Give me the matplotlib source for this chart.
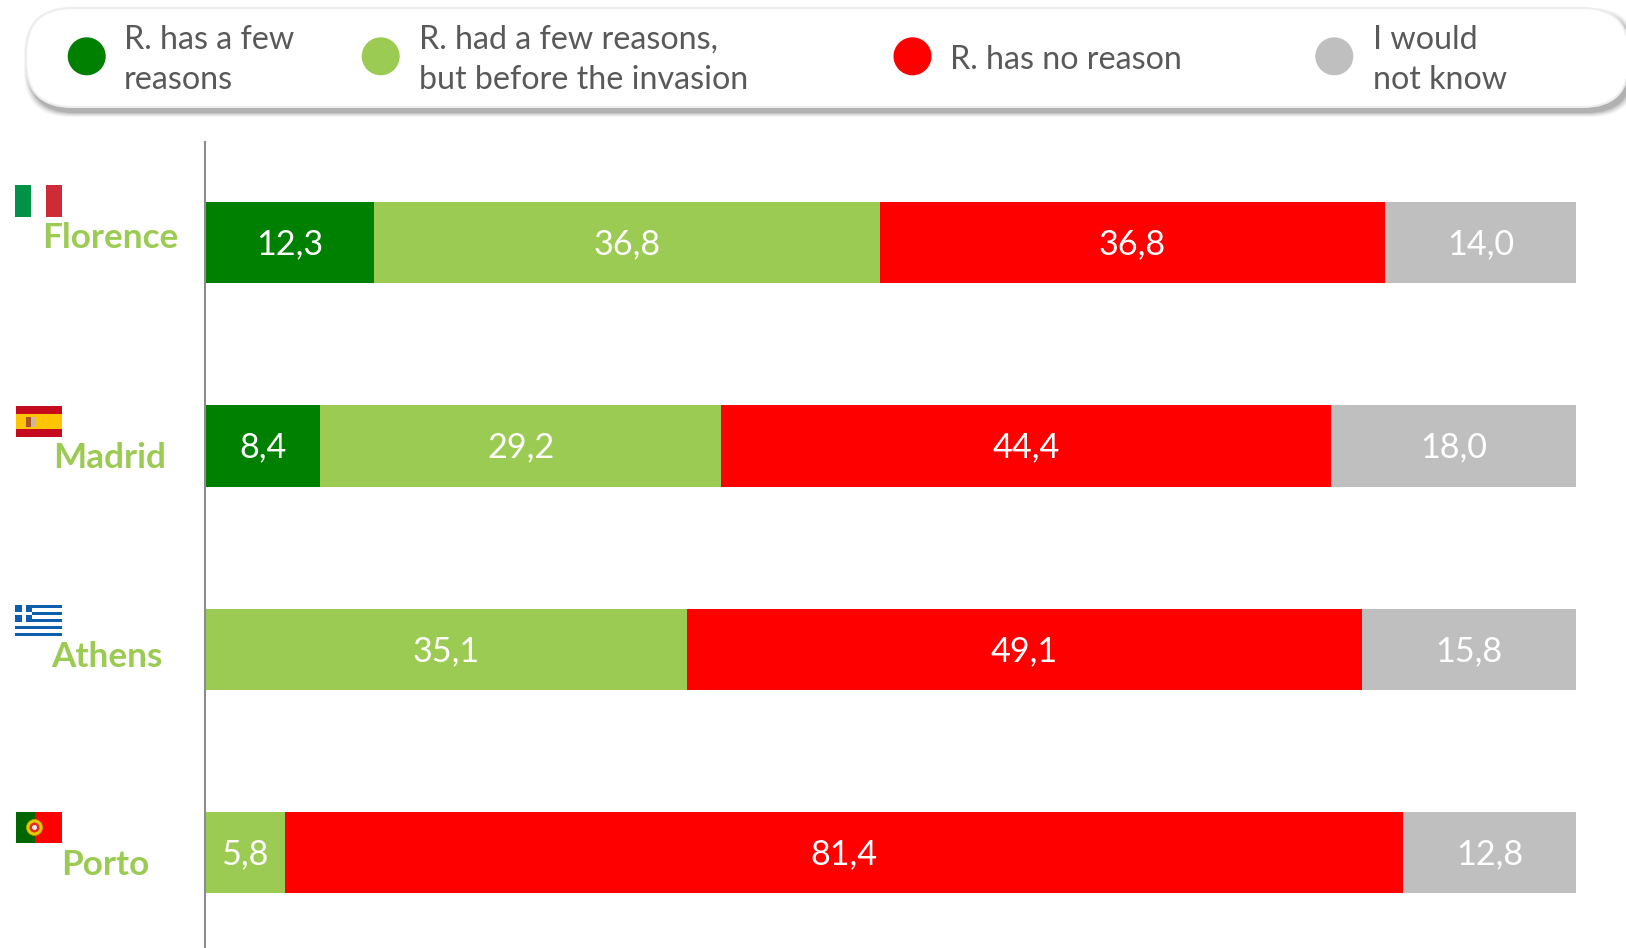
import numpy as np
import matplotlib
matplotlib.use("Agg")
import matplotlib.pyplot as plt
from matplotlib.patches import Circle, FancyBboxPatch, Rectangle

plt.rcParams['font.family'] = ['Lato', 'DejaVu Sans']

# chart data: printed labels
cities = ['Florence', 'Madrid', 'Athens', 'Porto']
few_reasons = [12.3, 8.4, 0, 0]
before_invasion = [36.8, 29.2, 35.1, 5.8]
no_reason = [36.8, 44.4, 49.1, 81.4]
not_know = [14.0, 18.0, 15.8, 12.8]

# bar lengths as measured on the picture, they differ a little from the printed labels
few_bar = [12.3, 8.4, 0, 0]
before_bar = [36.93, 29.26, 35.13, 5.8]
no_reason_bar = [36.84, 44.47, 49.26, 81.58]
not_know_bar = [13.93, 17.87, 15.61, 12.62]

series_names = ['R. has a few\nreasons', 'R. had a few reasons,\nbut before the invasion',
                'R. has no reason', 'I would\nnot know']
colors = ['#008000', '#9BCB52', '#FF0000', '#BFBFBF']

W, H = 1626, 948
fig = plt.figure(figsize=(W / 100, H / 100), dpi=100, facecolor='white')

# main bars, axes box given in pixels
ax_left, ax_right, ax_top, ax_bottom = 205, 1576, 141, 948
ax = fig.add_axes([ax_left / W, 1 - ax_bottom / H, (ax_right - ax_left) / W, (ax_bottom - ax_top) / H])

y = np.arange(len(cities))
left = np.zeros(len(cities))
bars = [few_bar, before_bar, no_reason_bar, not_know_bar]
labels = [few_reasons, before_invasion, no_reason, not_know]
for widths, vals, color in zip(bars, labels, colors):
    ax.barh(y, widths, left=left, height=0.4, color=color, linewidth=0)
    for i, v in enumerate(vals):
        if v > 0:
            ax.text(left[i] + widths[i] / 2, y[i] + 0.008, f'{v:.1f}'.replace('.', ','),
                    ha='center', va='center', color='white', fontsize=24.6)
    left += np.array(widths)

ax.set_xlim(0, 100)
ax.set_ylim(3.468, -0.5)
ax.set_xticks([])
ax.set_yticks([])
for side in ['top', 'right', 'bottom']:
    ax.spines[side].set_visible(False)
ax.spines['left'].set_color('#8C8C8C')
ax.spines['left'].set_linewidth(1.5)
ax.spines['left'].set_bounds(3.468, -0.495)

# overlay in pixel coordinates for the legend pill, flags and city names
ov = fig.add_axes([0, 0, 1, 1], facecolor='none')
ov.set_xlim(0, W)
ov.set_ylim(H, 0)
ov.axis('off')

pill = dict(boxstyle='round,pad=0,rounding_size=46')
for grow, alpha in [(5, 0.05), (4, 0.07), (3, 0.09), (2, 0.12), (1, 0.15)]:
    ov.add_patch(FancyBboxPatch((26 - grow + 3, 8 - grow + 5), 1603 + 2 * grow, 99 + 2 * grow, **pill,
                                fc='#404040', ec='none', alpha=alpha))
ov.add_patch(FancyBboxPatch((26, 8), 1603, 99, **pill, fc='white', ec='#EDEDED', lw=1.5))

marker_x = [86.7, 380.7, 912.5, 1334.3]
text_x = [124, 418.5, 950, 1372.5]
for name, color, mx, tx in zip(series_names, colors, marker_x, text_x):
    ov.add_patch(Circle((mx, 56.3), 19, fc=color, ec='none'))
    ov.text(tx, 60, name, ha='left', va='center', color='#595959', fontsize=23.2, linespacing=1.43)

city_x = [110, 109.5, 107, 105]
city_y = [238, 457.5, 657, 865]
for name, cx, cy in zip(cities, city_x, city_y):
    ov.text(cx, cy, name, ha='center', va='center', color=colors[1], fontsize=25.3, fontweight='bold')


def rect(x0, y0, x1, y1, color):
    ov.add_patch(Rectangle((x0, y0), x1 - x0, y1 - y0, fc=color, ec='none'))


# Italy
rect(15, 185, 31, 217, '#009246')
rect(46, 185, 62, 217, '#CE2B37')
# Spain
rect(16, 406, 62, 437, '#C60B1E')
rect(16, 413.7, 62, 429, '#FFC400')
rect(26, 417, 31, 427, '#A8552A')
rect(31, 417, 36, 427, '#C9B9A0')
# Greece
stripe = 31 / 9
rect(15, 605, 62, 636, 'white')
for k in range(0, 9, 2):
    rect(15, 605 + k * stripe, 62, 605 + (k + 1) * stripe, '#0D5EAF')
rect(15, 605, 32, 605 + 5 * stripe, '#0D5EAF')
rect(22, 605, 25.5, 605 + 5 * stripe, 'white')
rect(15, 605 + 2 * stripe, 32, 605 + 3 * stripe, 'white')
# Portugal
rect(16, 812, 62, 843, '#FF0000')
rect(16, 812, 34.5, 843, '#006600')
ov.add_patch(Circle((34.5, 827.5), 8, fc='#E8C800', ec='#C8A000', lw=0.5))
ov.add_patch(Circle((34.5, 827.5), 5, fc='#E03020', ec='none'))
ov.add_patch(Circle((34.5, 827.5), 2.5, fc='#E8E8F0', ec='none'))

fig.savefig('out.png', dpi=100)
plt.close(fig)
